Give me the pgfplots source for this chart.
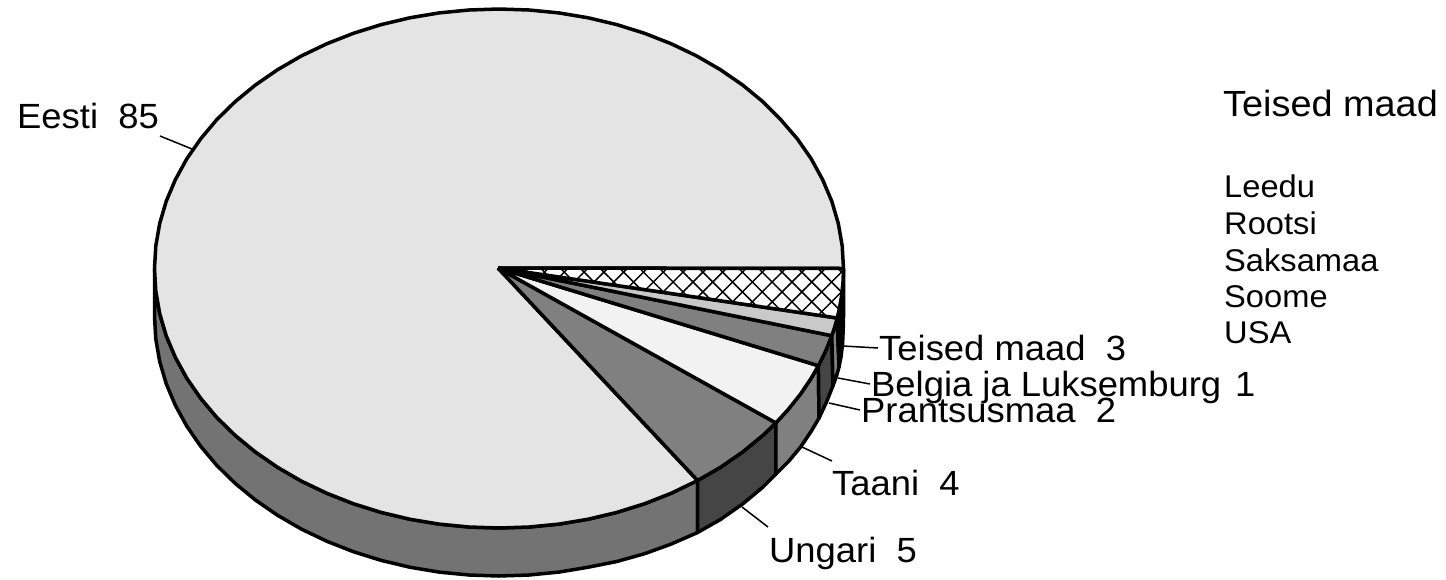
\documentclass[border=0pt]{standalone}
\usepackage{fontspec}
\setmainfont[FakeStretch=1.04]{Liberation Sans}
\usepackage{pgfplots}
\pgfplotsset{compat=1.18}
\usetikzlibrary{patterns.meta}
\definecolor{topE}{gray}{0.894}
\definecolor{sideE}{gray}{0.45}
\definecolor{darkS}{gray}{0.27}
\definecolor{midS}{gray}{0.5}
\definecolor{lightT}{gray}{0.95}
\definecolor{lightB}{gray}{0.79}
\newcommand{\lbig}{\fontsize{35}{38}\selectfont}
\newcommand{\lhead}{\fontsize{36.4}{38}\selectfont}
\newcommand{\lsmall}{\fontsize{31.4}{34}\selectfont}
\tikzset{lab/.style={anchor=base west,inner sep=0pt,text=black,font=\lbig},
 labh/.style={anchor=base west,inner sep=0pt,text=black,font=\lhead},
 labs/.style={anchor=base west,inner sep=0pt,text=black,font=\lsmall}}
\pgfplotsset{pie/.style={draw=black,line width=3.5pt,line join=round,mark=none},
 leader/.style={draw=black,line width=1.5pt,mark=none}}
\begin{document}
\begin{tikzpicture}
\useasboundingbox (0,0) rectangle (1446pt,579pt);
\begin{axis}[at={(0,0)},anchor=south west,scale only axis,width=1446pt,height=579pt,
 xmin=0,xmax=1446,ymin=0,ymax=579,y dir=reverse,hide axis,clip=false]
% sides
\addplot[pie,fill=sideE] coordinates {(697.6,480.5)(671.3,493.2)(644.6,503.7)(616.8,512.4)(588.2,519.2)(558.8,524.1)(529,527)(499,528)(469,527)(439.2,524.1)(409.8,519.2)(381.2,512.4)(353.4,503.7)(326.7,493.2)(301.4,481.1)(277.6,467.3)(255.4,452)(235.1,435.3)(216.8,417.4)(200.7,398.3)(186.8,378.2)(175.3,357.2)(166.2,335.7)(159.7,313.5)(155.8,291.1)(154.5,268.5)
(154.5,316.5)(155.8,339.1)(159.7,361.5)(166.2,383.7)(175.3,405.2)(186.8,426.2)(200.7,446.3)(216.8,465.4)(235.1,483.3)(255.4,500)(277.6,515.3)(301.4,529.1)(326.7,541.2)(353.4,551.7)(381.2,560.4)(409.8,567.2)(439.2,572.1)(469,575)(499,576)(529,575)(558.8,572.1)(588.2,567.2)(616.8,561.5)(644.6,553.7)(671.3,544)(697.6,532.5)(697.6,480.5)};
\addplot[pie,fill=darkS] coordinates {(775.9,422.9)(762.9,435.3)(742.6,452)(720.4,467.3)(697.6,480.5)(697.6,532.5)(720.4,519.5)(742.6,504)(763,487)(776,474)(775.9,422.9)};
\addplot[pie,fill=midS] coordinates {(818.4,365.7)(811.2,378.2)(800.3,394.3)(787.9,409.8)(775.9,422.9)(776,474)(788.5,461.5)(801,446.5)(812,430)(819,418)(818.4,365.7)};
\addplot[pie,fill=darkS] coordinates {(831.8,335.7)(825.7,350.8)(818.4,365.7)(819,418)(826.5,402)(833,385.7)(831.8,335.7)};
\addplot[pie,fill=midS] coordinates {(837.2,318)(834.7,326.9)(831.8,335.7)(833,385.7)(836.5,376)(839,367)(837.2,318)};
\addplot[pie,fill=black] coordinates {(843.5,268.5)(843,282.1)(841.6,295.6)(839.3,309.1)(837.2,318)(839,367)(841,357)(842.6,343.6)(843.2,330.1)(843.5,316.5)(843.5,268.5)};
% top: Eesti
\addplot[pie,fill=topE] coordinates {(498,268)(697.6,480.5)(671.3,493.2)(644.6,503.7)(616.8,512.4)(588.2,519.2)(558.8,524.1)(529,527)(499,528)(469,527)(439.2,524.1)(409.8,519.2)(381.2,512.4)(353.4,503.7)(326.7,493.2)(301.4,481.1)(277.6,467.3)(255.4,452)(235.1,435.3)(216.8,417.4)(200.7,398.3)(186.8,378.2)(175.3,357.2)(166.2,335.7)(159.7,313.5)(155.8,291.1)(154.5,268.5)(155.8,245.9)(159.7,223.5)(166.2,201.3)(175.3,179.8)(186.8,158.8)(200.7,138.8)(216.8,119.6)(235.1,101.7)(255.4,85)(277.6,69.7)(301.4,55.9)(326.7,43.8)(353.4,33.3)(381.2,24.6)(409.8,17.8)(439.2,12.9)(469,10)(499,9)(529,10)(558.8,12.9)(588.2,17.8)(616.8,24.6)(644.6,33.3)(671.3,43.8)(696.6,55.9)(720.4,69.7)(742.6,85)(762.9,101.7)(780.7,119.6)(797.3,138.8)(811.2,158.8)(822.7,179.8)(831.8,201.3)(838.3,223.5)(842.2,245.9)(843.5,268.5)(498,268)};
% Ungari
\addplot[pie,fill=midS] coordinates {(498,268)(775.9,422.9)(762.9,435.3)(742.6,452)(720.4,467.3)(697.6,480.5)(498,268)};
% Taani
\addplot[pie,fill=lightT] coordinates {(498,268)(818.4,365.7)(811.2,378.2)(800.3,394.3)(787.9,409.8)(775.9,422.9)(498,268)};
% Prantsusmaa
\addplot[pie,fill=midS] coordinates {(498,268)(831.8,335.7)(825.7,350.8)(818.4,365.7)(498,268)};
% Belgia
\addplot[pie,fill=lightB] coordinates {(498,268)(837.2,318)(834.7,326.9)(831.8,335.7)(498,268)};
% Teised maad
\addplot[draw=none,fill=white,mark=none] coordinates {(498,268)(843.5,268.5)(843,282.1)(841.6,295.6)(839.3,309.1)(837.2,318)(498,268)};
\addplot[draw=none,mark=none,pattern={Lines[angle=45,distance=14pt,line width=1.5pt]},pattern color=black] coordinates {(498,268)(843.5,268.5)(843,282.1)(841.6,295.6)(839.3,309.1)(837.2,318)(498,268)};
\addplot[draw=none,mark=none,pattern={Lines[angle=-45,distance=14pt,line width=1.5pt]},pattern color=black] coordinates {(498,268)(843.5,268.5)(843,282.1)(841.6,295.6)(839.3,309.1)(837.2,318)(498,268)};
\addplot[pie] coordinates {(498,268)(843.5,268.5)(843,282.1)(841.6,295.6)(839.3,309.1)(837.2,318)(498,268)};
% leaders
\addplot[leader] coordinates {(160,136)(192,149)};
\addplot[leader] coordinates {(843,346)(878,348)};
\addplot[leader] coordinates {(838,378)(870,384)};
\addplot[leader] coordinates {(829,403)(860,410)};
\addplot[leader] coordinates {(802,447)(832,461)};
\addplot[leader] coordinates {(742,507)(768,527)};
% labels
\node[lab] at (axis cs:17,128) {Eesti\ \ 85};
\node[lab] at (axis cs:879,360) {Teised maad\ \ 3};
\node[lab] at (axis cs:871,396) {Belgia ja Luksemburg\hspace{14pt}1};
\node[lab] at (axis cs:861,422) {Prantsusmaa\ \ 2};
\node[lab] at (axis cs:832,495) {Taani\ \ 4};
\node[lab] at (axis cs:769,562) {Ungari\ \ 5};
\node[labh] at (axis cs:1223,116) {Teised maad};
\node[labs] at (axis cs:1224,197) {Leedu};
\node[labs] at (axis cs:1224,234) {Rootsi};
\node[labs] at (axis cs:1224,271) {Saksamaa};
\node[labs] at (axis cs:1224,307) {Soome};
\node[labs] at (axis cs:1224,343) {USA};
\end{axis}
\end{tikzpicture}
\end{document}
